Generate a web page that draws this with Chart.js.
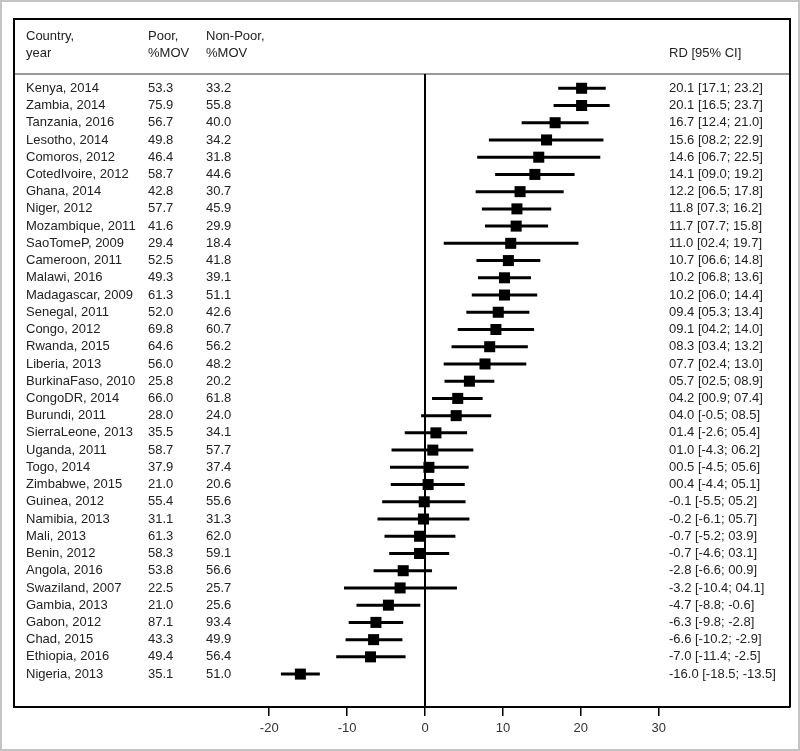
<!DOCTYPE html>
<html>
<head>
<meta charset="utf-8">
<script src="https://cdn.jsdelivr.net/npm/chart.js@4"></script>
<style>
  html, body { margin: 0; padding: 0; background: #fff; }
  #wrap { width: 800px; height: 751px; position: relative; }
</style>
</head>
<body>
<div id="wrap"><canvas id="forest"></canvas></div>
<script>
const countries = ["Kenya, 2014", "Zambia, 2014", "Tanzania, 2016", "Lesotho, 2014", "Comoros, 2012",
  "CotedIvoire, 2012", "Ghana, 2014", "Niger, 2012", "Mozambique, 2011", "SaoTomeP, 2009",
  "Cameroon, 2011", "Malawi, 2016", "Madagascar, 2009", "Senegal, 2011", "Congo, 2012",
  "Rwanda, 2015", "Liberia, 2013", "BurkinaFaso, 2010", "CongoDR, 2014", "Burundi, 2011",
  "SierraLeone, 2013", "Uganda, 2011", "Togo, 2014", "Zimbabwe, 2015", "Guinea, 2012",
  "Namibia, 2013", "Mali, 2013", "Benin, 2012", "Angola, 2016", "Swaziland, 2007",
  "Gambia, 2013", "Gabon, 2012", "Chad, 2015", "Ethiopia, 2016", "Nigeria, 2013"];
const poor = [53.3, 75.9, 56.7, 49.8, 46.4, 58.7, 42.8, 57.7, 41.6, 29.4, 52.5, 49.3, 61.3, 52.0, 69.8,
  64.6, 56.0, 25.8, 66.0, 28.0, 35.5, 58.7, 37.9, 21.0, 55.4, 31.1, 61.3, 58.3, 53.8, 22.5, 21.0, 87.1,
  43.3, 49.4, 35.1];
const nonPoor = [33.2, 55.8, 40.0, 34.2, 31.8, 44.6, 30.7, 45.9, 29.9, 18.4, 41.8, 39.1, 51.1, 42.6, 60.7,
  56.2, 48.2, 20.2, 61.8, 24.0, 34.1, 57.7, 37.4, 20.6, 55.6, 31.3, 62.0, 59.1, 56.6, 25.7, 25.6, 93.4,
  49.9, 56.4, 51.0];
const rd = [20.1, 20.1, 16.7, 15.6, 14.6, 14.1, 12.2, 11.8, 11.7, 11.0, 10.7, 10.2, 10.2, 9.4, 9.1, 8.3,
  7.7, 5.7, 4.2, 4.0, 1.4, 1.0, 0.5, 0.4, -0.1, -0.2, -0.7, -0.7, -2.8, -3.2, -4.7, -6.3, -6.6, -7.0, -16.0];
const ciLow = [17.1, 16.5, 12.4, 8.2, 6.7, 9.0, 6.5, 7.3, 7.7, 2.4, 6.6, 6.8, 6.0, 5.3, 4.2, 3.4, 2.4,
  2.5, 0.9, -0.5, -2.6, -4.3, -4.5, -4.4, -5.5, -6.1, -5.2, -4.6, -6.6, -10.4, -8.8, -9.8, -10.2, -11.4, -18.5];
const ciHigh = [23.2, 23.7, 21.0, 22.9, 22.5, 19.2, 17.8, 16.2, 15.8, 19.7, 14.8, 13.6, 14.4, 13.4, 14.0,
  13.2, 13.0, 8.9, 7.4, 8.5, 5.4, 6.2, 5.6, 5.1, 5.2, 5.7, 3.9, 3.1, 0.9, 4.1, -0.6, -2.8, -2.9, -2.5, -13.5];
const xTicks = [-20, -10, 0, 10, 20, 30];

const FONT = '13px "Liberation Sans", Arial, sans-serif';
const TEXT = "#222";

// 09.4 style formatting used in the original table
const fmt = v => (v >= 0 && v < 10 ? "0" : "") + v.toFixed(1);

const ciSets = countries.map((c, i) => ({
  type: "scatter",
  data: [{ x: ciLow[i], y: i }, { x: ciHigh[i], y: i }],
  showLine: true,
  borderColor: "#000",
  borderWidth: 3,
  pointRadius: 0,
  order: 2,
}));

const tablePlugin = {
  id: "table",
  beforeDraw(chart) {
    const { ctx } = chart;
    ctx.save();
    ctx.fillStyle = "#fff";
    ctx.fillRect(0, 0, chart.width, chart.height);
    ctx.strokeStyle = "#c4c4c4";
    ctx.lineWidth = 2;
    ctx.strokeRect(1, 1, chart.width - 2, chart.height - 2);
    ctx.restore();
  },
  beforeDatasetsDraw(chart) {
    const { ctx, chartArea: a, scales: { x, y } } = chart;
    ctx.save();
    // header separator
    const sepY = y.getPixelForValue(-0.83);
    ctx.strokeStyle = "#9a9a9a";
    ctx.lineWidth = 2;
    ctx.beginPath();
    ctx.moveTo(a.left, sepY);
    ctx.lineTo(a.right, sepY);
    ctx.stroke();
    // zero line
    const zx = Math.round(x.getPixelForValue(0));
    ctx.strokeStyle = "#000";
    ctx.lineWidth = 2;
    ctx.beginPath();
    ctx.moveTo(zx, sepY);
    ctx.lineTo(zx, a.bottom);
    ctx.stroke();
    // frame (bottom edge is the x-axis border)
    ctx.beginPath();
    ctx.moveTo(a.left, a.bottom);
    ctx.lineTo(a.left, a.top);
    ctx.lineTo(a.right, a.top);
    ctx.lineTo(a.right, a.bottom);
    ctx.stroke();

    ctx.font = FONT;
    ctx.fillStyle = TEXT;
    ctx.textBaseline = "middle";
    const h1 = y.getPixelForValue(-2.98), h2 = y.getPixelForValue(-2.05);
    ctx.fillText("Country,", 26, h1);
    ctx.fillText("year", 26, h2);
    ctx.fillText("Poor,", 148, h1);
    ctx.fillText("%MOV", 148, h2);
    ctx.fillText("Non-Poor,", 206, h1);
    ctx.fillText("%MOV", 206, h2);
    ctx.fillText("RD [95% CI]", 669, h2);
    countries.forEach((c, i) => {
      const py = y.getPixelForValue(i);
      ctx.fillText(c, 26, py);
      ctx.fillText(poor[i].toFixed(1), 148, py);
      ctx.fillText(nonPoor[i].toFixed(1), 206, py);
      ctx.fillText(fmt(rd[i]) + " [" + fmt(ciLow[i]) + "; " + fmt(ciHigh[i]) + "]", 669, py);
    });
    ctx.restore();
  },
};

new Chart(document.getElementById("forest"), {
  type: "scatter",
  data: {
    datasets: [
      {
        data: rd.map((v, i) => ({ x: v, y: i })),
        pointStyle: "rect",
        pointRadius: 7.8,
        backgroundColor: "#000",
        borderColor: "#000",
        borderWidth: 0,
        order: 1,
      },
      ...ciSets,
    ],
  },
  options: {
    responsive: true,
    maintainAspectRatio: false,
    animation: false,
    events: [],
    layout: { padding: { left: 14, top: 19, right: 10, bottom: 0 } },
    plugins: { legend: { display: false }, tooltip: { enabled: false } },
    scales: {
      x: {
        type: "linear",
        min: -52.76,
        max: 46.85,
        afterBuildTicks(scale) {
          scale.ticks = xTicks.map(v => ({ value: v }));
        },
        afterFit(scale) {
          scale.height = 44;
        },
        grid: { drawOnChartArea: false, drawTicks: true, tickLength: 9, color: "#000", lineWidth: 1.5 },
        border: { display: true, color: "#000", width: 2 },
        ticks: {
          padding: 5,
          color: "#333",
          font: { family: '"Liberation Sans", Arial, sans-serif', size: 13 },
          maxRotation: 0,
        },
      },
      y: {
        type: "linear",
        display: false,
        reverse: true,
        min: -4.02,
        max: 35.91,
      },
    },
  },
  plugins: [tablePlugin],
});
</script>
</body>
</html>
